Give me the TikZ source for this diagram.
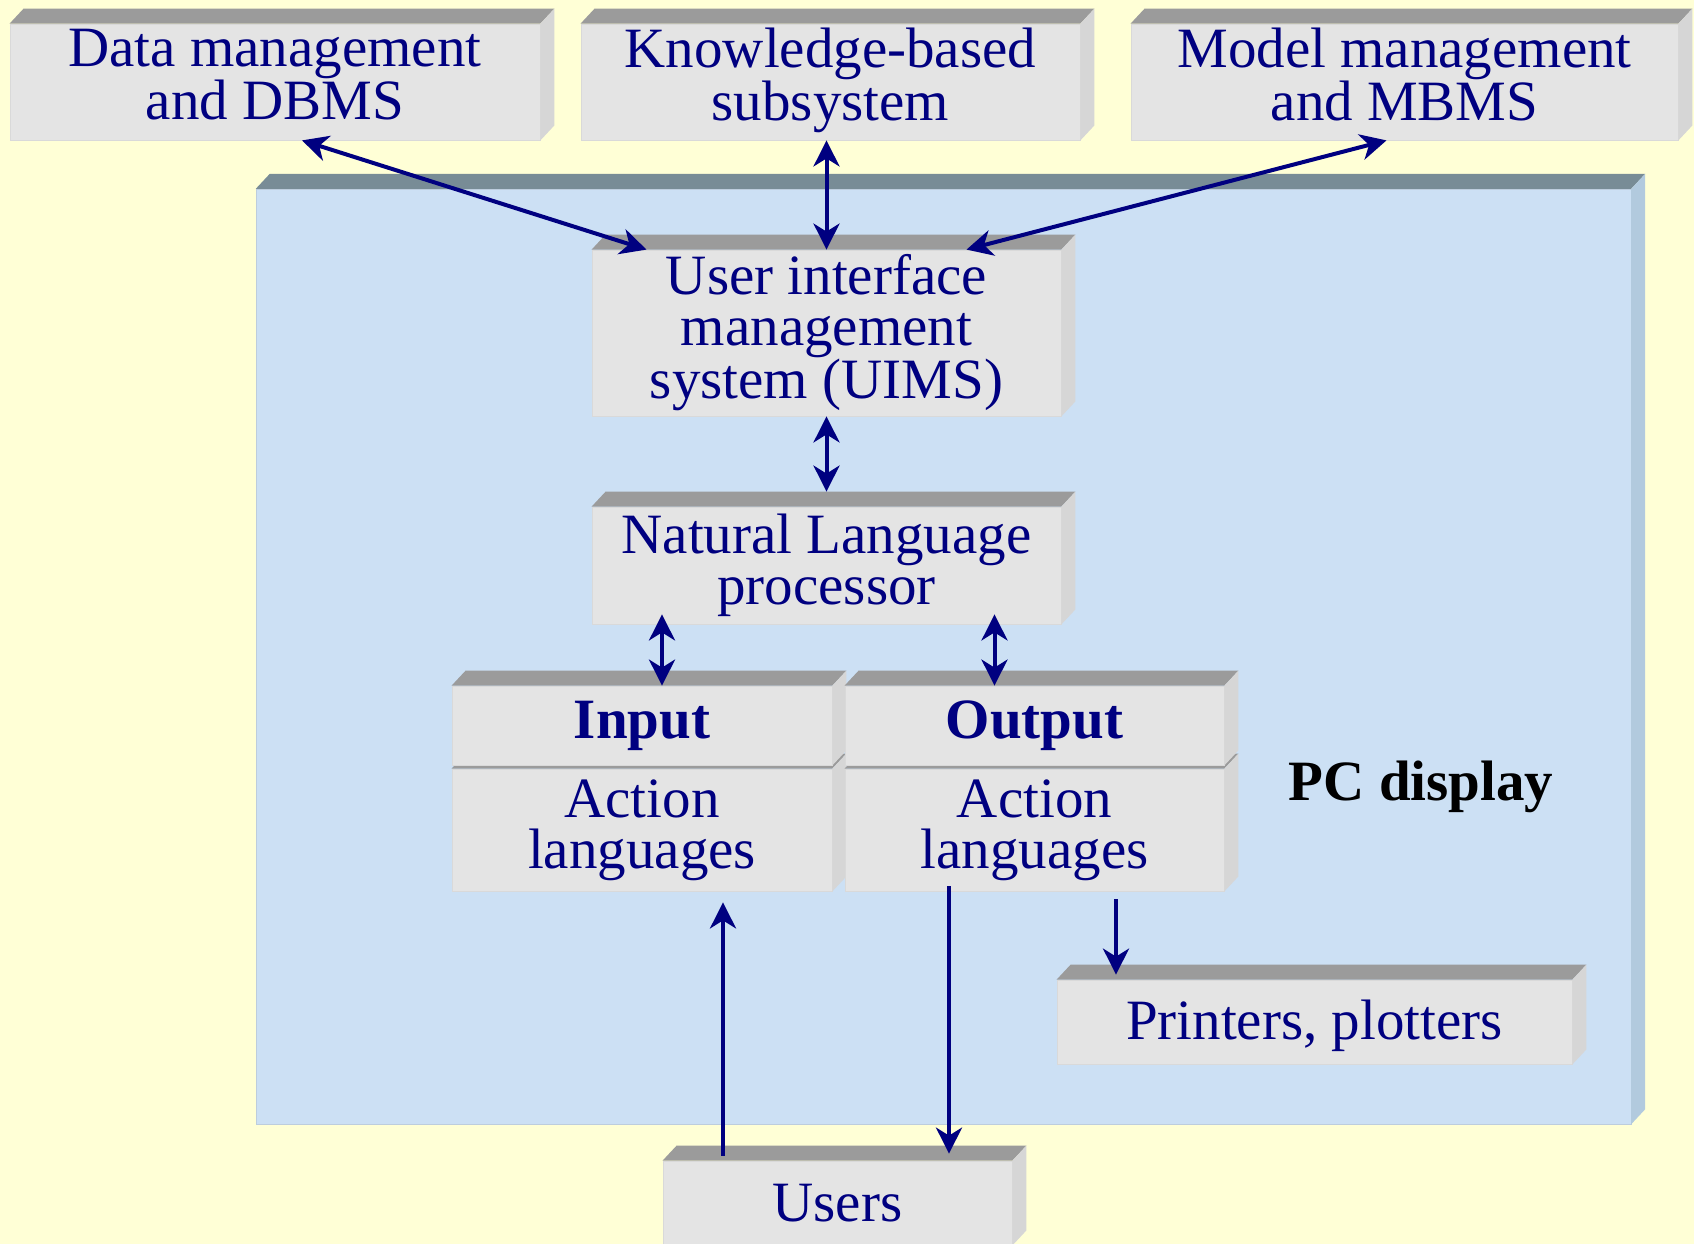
\documentclass[tikz,border=0pt]{standalone}
\usepackage{fontspec}
\setmainfont{Liberation Serif}
\usetikzlibrary{arrows.meta, positioning, calc}

\definecolor{paper}{RGB}{255,255,214}
\definecolor{ink}{RGB}{0,0,128}
\definecolor{marble}{RGB}{228,228,228}
\definecolor{slabtop}{RGB}{155,155,155}
\definecolor{slabside}{RGB}{214,214,214}
\definecolor{screen}{RGB}{204,224,244}
\definecolor{screentop}{RGB}{120,140,150}
\definecolor{screenside}{RGB}{178,202,222}

% top and right faces of a slab behind a node
\newcommand{\blockfaces}[3]{%
  \fill[#2] (#1.north west) -- ++(14pt,15pt) -- ([shift={(14pt,15pt)}]#1.north east) -- (#1.north east) -- cycle;
  \fill[#3] (#1.north east) -- ([shift={(14pt,15pt)}]#1.north east) -- ([shift={(14pt,15pt)}]#1.south east) -- (#1.south east) -- cycle;
}

\begin{document}
\begin{tikzpicture}[x=1pt, y=-1pt, font=\fontsize{57}{51}\selectfont,
    >={Stealth[length=26pt, width=26pt, inset=8pt]},
    block/.style={fill=marble, draw=gray!30, line width=0.8pt, inner sep=0pt, text=ink, align=center},
    link/.style={ink, line width=4pt}]
    \fill[paper] (0,0) rectangle (1694,1244);
    \useasboundingbox (0,0) rectangle (1694,1244);

    % the screen
    \node[fill=screen, draw=screen!80!gray, minimum width=1375pt, minimum height=935pt, inner sep=0pt] (pc) at (943.5,656.5) {};
    \blockfaces{pc}{screentop}{screenside}
    \node[anchor=base, font=\fontsize{57}{51}\selectfont\bfseries] (pclabel) at (1421,800) {PC display};

    % top row
    \node[block, minimum width=530pt, minimum height=116pt, text depth=15pt] (data) at (275,82) {Data management\\and DBMS};
    \blockfaces{data}{slabtop}{slabside}
    \node[block, minimum width=499pt, minimum height=116pt, text depth=15pt] (know) at (830.5,82) {Knowledge-based\\subsystem};
    \blockfaces{know}{slabtop}{slabside}
    \node[block, minimum width=547pt, minimum height=116pt, text depth=15pt] (model) at (1404.5,82) {Model management\\and MBMS};
    \blockfaces{model}{slabtop}{slabside}

    \node[block, minimum width=469pt, minimum height=166pt] (uims) at (826.5,333) {User interface\\management\\system (UIMS)};
    \blockfaces{uims}{slabtop}{slabside}
    \node[block, minimum width=469pt, minimum height=117pt] (nlp) at (826.5,565.5) {Natural Language\\processor};
    \blockfaces{nlp}{slabtop}{slabside}

    % input / output stacks
    \node[block, minimum width=380pt, minimum height=122pt] (inlow) at (642,830) {Action\\languages};
    \blockfaces{inlow}{slabtop}{slabside}
    \node[block, minimum width=380pt, minimum height=79pt, font=\fontsize{57}{51}\selectfont\bfseries] (inup) at (642,725.5) {Input};
    \blockfaces{inup}{slabtop}{slabside}
    \node[block, minimum width=379pt, minimum height=122pt] (outlow) at (1034.5,830) {Action\\languages};
    \blockfaces{outlow}{slabtop}{slabside}
    \node[block, minimum width=379pt, minimum height=79pt, font=\fontsize{57}{51}\selectfont\bfseries] (outup) at (1034.5,725.5) {Output};
    \blockfaces{outup}{slabtop}{slabside}

    \node[block, minimum width=515pt, minimum height=84pt, text depth=4pt] (printers) at (1314.5,1022) {Printers, plotters};
    \blockfaces{printers}{slabtop}{slabside}
    \node[block, minimum width=349pt, minimum height=84pt] (users) at (837.5,1203) {Users};
    \blockfaces{users}{slabtop}{slabside}

    % connectors
    \draw[link, <->] ([xshift=27pt]data.south) -- ([xshift=-180pt]uims.north);
    \draw[link, <->] (uims.north |- know.south) -- (uims.north);
    \draw[link, <->] ([xshift=-18pt]model.south) -- ([xshift=140pt]uims.north);
    \draw[link, <->] (uims.south) -- ([yshift=15pt]nlp.north);
    \draw[link, <->] ($(nlp.south -| inup.north)+(20,-10)$) -- ([xshift=20pt]inup.north);
    \draw[link, <->] ($(nlp.south -| outup.north)+(-40,-10)$) -- ([xshift=-40pt]outup.north);
    \draw[link, ->] ($(users.north -| inlow.south)+(81,-5)$) -- ($(inlow.south)+(81,11)$);
    \draw[link, ->] ($(outlow.south)+(-85.5,-5)$) -- ($(users.north -| outlow.south)+(-85.5,-7)$);
    \draw[link, ->] ($(outlow.south)+(81.5,8)$) -- ($(printers.north -| outlow.south)+(81.5,-5)$);
\end{tikzpicture}
\end{document}
